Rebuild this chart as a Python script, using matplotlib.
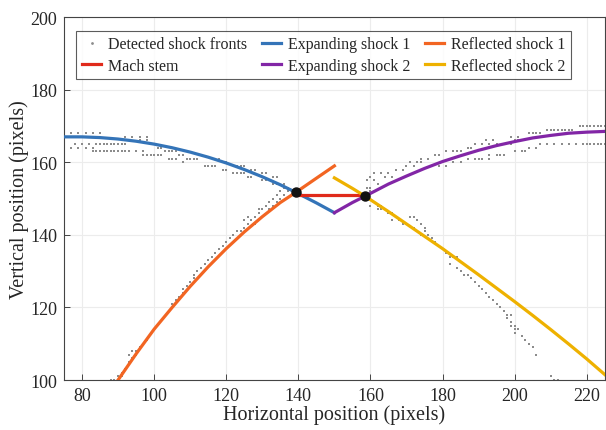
import matplotlib
matplotlib.use("Agg")
import matplotlib.pyplot as plt
from matplotlib.lines import Line2D

# ---------------- data ----------------
# detected shock-front pixels, grouped by row: (y, [x ...])
front_rows_upper_left = [
    (168, [75, 77, 79, 81, 83, 85]),
    (167, [92, 94, 96, 98]),
    (166, [96, 98]),
    (165, [75, 78, 80, 82, 84, 85, 86, 87, 88, 89, 90, 91, 92]),
    (164, [75, 77, 79, 81, 83, 101, 102]),
    (163, [83, 84, 85, 86, 87, 88, 89, 90, 91, 92, 93, 95, 97, 103, 104, 105, 106]),
    (162, [97, 98, 99, 100, 101, 102, 107, 108]),
    (161, [104, 105, 106, 109, 110, 111, 112, 117, 118]),
    (160, [108, 119, 120]),
    (159, [114, 115, 116, 117, 123, 124, 125]),
    (158, [119, 120, 127, 128]),
    (157, [122, 123, 124, 125, 130, 131]),
    (156, [126, 127, 133, 134]),
    (155, [130, 131, 132]),
    (154, [133, 134, 136]),
    (153, [136, 137]),
]
front_pts_lower_left_x = [88, 89, 90, 91, 91, 92, 93, 93, 94, 94, 95, 95, 96, 97, 98,
                          105, 106, 107, 108, 108, 109, 110, 111, 111, 112, 113, 114, 115, 116, 117, 118, 119, 120,
                          121, 122, 123, 124, 125, 125, 126, 126, 127, 128, 128, 129, 129, 130, 130, 131, 132, 132,
                          133, 133, 134, 134, 135, 135, 136, 137]
front_pts_lower_left_y = [100, 100, 101, 101, 102, 103, 105, 107, 106, 108, 107, 108, 109, 110, 111,
                          121, 122, 123, 124, 125, 126, 127, 128, 129, 130, 131, 132, 133, 134, 135, 136, 137, 138,
                          139, 140, 141, 141, 142, 144, 143, 145, 144, 143, 145, 146, 147, 145, 147, 148, 147, 149,
                          148, 150, 149, 151, 150, 152, 151, 152]
front_pts_lower_right_x = [159, 160, 160, 161, 160, 162, 163, 162, 163, 164, 165, 166, 167, 166, 168, 169, 170,
                           171, 172, 172, 173, 173, 174, 174, 175, 175, 176, 177, 178,
                           181, 182, 183, 184, 182, 184, 185, 186, 185, 186, 187, 188, 189, 190, 191, 192, 193,
                           194, 195, 196, 197, 198, 199, 198, 199, 200, 199, 200, 201, 200, 202, 203, 204, 205,
                           206, 210, 211, 212]
front_pts_lower_right_y = [153, 152, 150, 149, 148, 148, 148, 147, 147, 147, 146, 146, 145, 144, 144, 143, 143,
                           145, 145, 142, 144, 141, 143, 140, 142, 141, 140, 139, 138,
                           135, 134, 134, 134, 132, 131, 130, 132, 130, 129, 129, 128, 127, 126, 125, 124, 123,
                           122, 121, 120, 119, 118, 118, 117, 116, 115, 115, 114, 114, 113, 112, 111, 110, 109,
                           107, 101, 100, 100]
front_rows_upper_right = [
    (170, [218, 219, 220, 221, 222, 223, 224, 225]),
    (169, [209, 210, 211, 212, 213, 214, 215, 216]),
    (168, [204, 205, 206, 207]),
    (167, [199, 201]),
    (166, [192, 194, 200, 201]),
    (165, [189, 191, 193, 195, 197, 199, 207, 209, 211, 213, 215, 217,
           219, 220, 221, 222, 223, 224, 225]),
    (164, [187, 188, 204, 206]),
    (163, [181, 183, 184, 185, 200, 202, 203]),
    (162, [178, 179, 193, 195, 196, 197]),
    (161, [174, 176, 187, 189, 190, 191, 193]),
    (160, [171, 173, 174, 183, 185]),
    (159, [170, 172, 179, 181]),
    (158, [167, 169]),
    (157, [161, 163, 165]),
    (156, [160, 164, 166]),
    (155, [159, 161]),
    (154, [162]),
    (153, [160]),
]

# fitted shock curves
exp1_x = [75, 80, 85, 90, 95, 100, 105, 110, 115, 120, 125, 130, 135, 139.3, 145, 150]
exp1_y = [167.0, 167.0, 166.8, 166.4, 165.8, 165.0, 164.0, 162.8, 161.4, 159.8, 158.0, 156.0, 153.8, 151.7, 148.8, 146.1]
ref1_x = [90, 95, 100, 105, 110, 115, 120, 125, 130, 135, 139.3, 145, 150]
ref1_y = [100.0, 107.2, 114.0, 120.0, 125.8, 131.2, 136.2, 140.8, 145.0, 148.9, 151.7, 155.6, 159.0]
mach_x = [139.3, 158.6]
mach_y = [151.1, 151.1]
exp2_x = [150, 155, 158.6, 165, 170, 175, 180, 185, 190, 195, 200, 205, 210, 215, 220, 225]
exp2_y = [146.1, 148.9, 150.7, 154.0, 156.2, 158.3, 160.2, 161.8, 163.3, 164.6, 165.7, 166.7, 167.4, 168.0, 168.3, 168.5]
ref2_x = [150, 155, 158.6, 165, 170, 175, 180, 185, 190, 195, 200, 205, 210, 215, 220, 225]
ref2_y = [155.7, 152.8, 150.6, 146.4, 143.0, 139.6, 136.2, 132.6, 129.0, 125.3, 121.6, 117.8, 113.9, 109.9, 105.8, 101.5]
triple_x = [139.3, 158.6]
triple_y = [151.7, 150.7]

x_ticks = [80, 100, 120, 140, 160, 180, 200, 220]
y_ticks = [100, 120, 140, 160, 180, 200]

# assemble detected points
dots_x, dots_y = [], []
for rows in (front_rows_upper_left, front_rows_upper_right):
    for yv, xs in rows:
        dots_x += xs
        dots_y += [yv] * len(xs)
dots_x += front_pts_lower_left_x + front_pts_lower_right_x
dots_y += front_pts_lower_left_y + front_pts_lower_right_y

# ---------------- style ----------------
plt.rcParams['font.family'] = ['Liberation Serif', 'DejaVu Serif']
plt.rcParams['mathtext.fontset'] = 'stix'
txt = '#262626'

fig = plt.figure(figsize=(6.06, 4.31), dpi=100)
ax = fig.add_axes([0.1056, 0.116, 0.8924, 0.842])

c_blue = '#3474B8'
c_orange = '#F26522'
c_red = '#E02A1B'
c_purple = '#8226A6'
c_yellow = '#EEB100'
lw = 2.3

ax.plot(dots_x, dots_y, linestyle='none', marker='s', markersize=1.5,
        color='#8c8c8c', markeredgewidth=0, zorder=2)
ax.plot(exp1_x, exp1_y, color=c_blue, lw=lw, zorder=3)
ax.plot(ref1_x, ref1_y, color=c_orange, lw=lw, zorder=3)
ax.plot(mach_x, mach_y, color=c_red, lw=lw, zorder=3)
ax.plot(exp2_x, exp2_y, color=c_purple, lw=lw, zorder=3)
ax.plot(ref2_x, ref2_y, color=c_yellow, lw=lw, zorder=3)
ax.plot(triple_x, triple_y, linestyle='none', marker='o', markersize=6.5,
        color='#111111', zorder=4)

ax.set_xlim(75, 225)
ax.set_ylim(100, 200)
ax.set_xticks(x_ticks)
ax.set_yticks(y_ticks)
ax.grid(True, color='#ececec', linewidth=0.8, zorder=0)
ax.set_axisbelow(True)
ax.tick_params(direction='in', length=4, width=0.7, colors='#444444',
               labelcolor=txt, labelsize=13, pad=5, top=False, right=False)
for s in ax.spines.values():
    s.set_color('#444444')
    s.set_linewidth(0.8)

ax.set_xlabel('Horizontal position (pixels)', fontsize=14.5, color=txt, labelpad=0.5)
ax.set_ylabel('Vertical position (pixels)', fontsize=14.5, color=txt, labelpad=0.5)

handles = [
    Line2D([], [], linestyle='none', marker='o', markersize=2, color='#8c8c8c', markeredgewidth=0),
    Line2D([], [], color=c_red, lw=lw),
    Line2D([], [], color=c_blue, lw=lw),
    Line2D([], [], color=c_purple, lw=lw),
    Line2D([], [], color=c_orange, lw=lw),
    Line2D([], [], color=c_yellow, lw=lw),
]
labels = ['Detected shock fronts', 'Mach stem', 'Expanding shock 1',
          'Expanding shock 2', 'Reflected shock 1', 'Reflected shock 2']
leg = ax.legend(handles, labels, ncol=3, loc='upper left', bbox_to_anchor=(0.023, 0.963),
                borderaxespad=0, fontsize=11.5, frameon=True, fancybox=False,
                handlelength=1.2, handletextpad=0.45, columnspacing=0.9,
                labelspacing=0.35, borderpad=0.35)
leg.get_frame().set_edgecolor('#333333')
leg.get_frame().set_linewidth(0.8)
for t in leg.get_texts():
    t.set_color(txt)

fig.savefig('out.png', dpi=100)
